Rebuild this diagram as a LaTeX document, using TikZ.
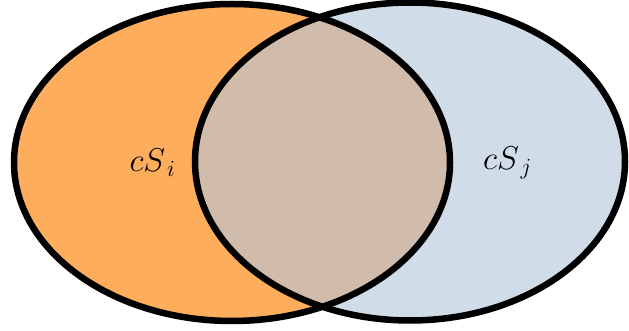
\RequirePackage{fix-cm}
\documentclass[tikz,border=0pt]{standalone}
\definecolor{setorange}{RGB}{253,173,92}
\definecolor{setblue}{RGB}{208,220,232}
\definecolor{setoverlap}{RGB}{209,187,170}
\tikzset{
  setline/.style={draw=black, line width=6.5pt},
  setlabel/.style={font=\fontsize{33}{39}\selectfont, inner sep=0pt}
}
\begin{document}
\begin{tikzpicture}[x=1pt,y=-1pt]
\useasboundingbox (0,0) rectangle (629,331);
\def\leftset{(232,162.5) ellipse [x radius=218, y radius=158.5]}
\def\rightset{(410,161.5) ellipse [x radius=215, y radius=159]}
\fill[setorange] \leftset;
\fill[setblue] \rightset;
\begin{scope}
  \clip \leftset;
  \fill[setoverlap] \rightset;
\end{scope}
\draw[setline] \leftset;
\draw[setline] \rightset;
\node[setlabel] (si) at (152.5,163) {$cS_{\,i}$};
\node[setlabel] (sj) at (507.5,163) {$cS_{\,j}$};
\end{tikzpicture}
\end{document}
